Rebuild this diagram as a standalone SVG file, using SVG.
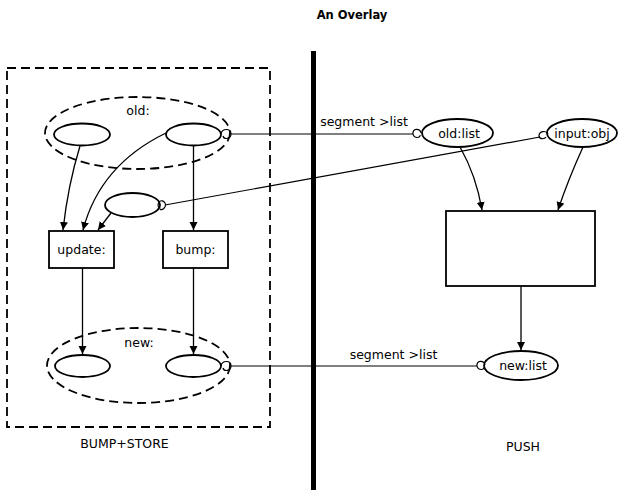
<svg xmlns="http://www.w3.org/2000/svg" width="618" height="493" viewBox="0 0 618 493">
<style>
.t{font-family:"DejaVu Sans","Liberation Sans",sans-serif;font-size:12.5px;fill:#000;text-anchor:middle}
.b{font-weight:bold;font-size:11.5px}
.s{fill:none;stroke:#000;stroke-width:1.3}
.n{fill:#fff;stroke:#000;stroke-width:1.8}
.d{fill:none;stroke:#000;stroke-width:1.8;stroke-dasharray:9,5}
.c{fill:none;stroke:#000;stroke-width:1.2}
</style>
<defs>
<marker id="ah" markerWidth="10" markerHeight="10" refX="8" refY="4" orient="auto" markerUnits="userSpaceOnUse">
<path d="M0,0 L8,4 L0,8 Z" fill="#000"/>
</marker>
</defs>
<rect width="618" height="493" fill="#fff"/>
<text class="t b" x="352" y="19">An Overlay</text>
<line x1="313.5" y1="51" x2="313.5" y2="490" stroke="#000" stroke-width="5"/>
<g id="bump-store">
<rect class="d" x="7" y="68" width="263" height="359"/>
<text class="t" x="124.5" y="448">BUMP+STORE</text>
</g>
<g id="old">
<ellipse class="d" cx="137.5" cy="133" rx="92.5" ry="36"/>
<text class="t" x="138" y="115">old:</text>
</g>
<g id="old-left"><ellipse class="n" cx="82" cy="134.5" rx="28" ry="11"/></g>
<g id="old-right"><ellipse class="n" cx="193.5" cy="134.5" rx="27.5" ry="11"/></g>
<g id="input-local"><ellipse class="n" cx="132.5" cy="205" rx="27.5" ry="12"/></g>
<g id="update"><rect class="n" x="49" y="231" width="65" height="37"/><text class="t" x="81.5" y="254">update:</text></g>
<g id="bump"><rect class="n" x="163" y="231" width="65" height="37"/><text class="t" x="195.5" y="254">bump:</text></g>
<g id="new">
<ellipse class="d" cx="138.5" cy="365.5" rx="91.5" ry="37.5"/>
<text class="t" x="139" y="347">new:</text>
</g>
<g id="new-left"><ellipse class="n" cx="82.5" cy="366" rx="27.5" ry="11"/></g>
<g id="new-right"><ellipse class="n" cx="193.5" cy="366" rx="27.5" ry="11"/></g>
<g id="push">
<text class="t" x="523" y="451">PUSH</text>
</g>
<g id="old-list"><ellipse class="n" cx="457.5" cy="133" rx="35.5" ry="14"/><text class="t" x="459" y="138">old:list</text></g>
<g id="input-obj"><ellipse class="n" cx="582" cy="133" rx="35" ry="14"/><text class="t" x="582" y="138">input:obj</text></g>
<g id="push-box"><rect class="n" x="446" y="211" width="149" height="75"/></g>
<g id="new-list"><ellipse class="n" cx="521" cy="365.5" rx="37" ry="14.5"/><text class="t" x="523" y="370">new:list</text></g>
<g id="connectors">
<path class="s" d="M80,146 Q68,185 63,230" marker-end="url(#ah)"/>
<path class="s" d="M166,133 Q100,165 83,230" marker-end="url(#ah)"/>
<path class="s" d="M111,213 L98,230" marker-end="url(#ah)"/>
<path class="s" d="M193.5,146 L193.5,230" marker-end="url(#ah)"/>
<path class="s" d="M82.5,268 L82.5,354" marker-end="url(#ah)"/>
<path class="s" d="M193.5,268 L193.5,354" marker-end="url(#ah)"/>
<path class="s" d="M460,147 Q476,175 482,210" marker-end="url(#ah)"/>
<path class="s" d="M583,147 Q568,180 558,210" marker-end="url(#ah)"/>
<path class="s" d="M521,286 L521,350" marker-end="url(#ah)"/>
<path class="c" d="M221,134 C222,128 231,128 231,134 C231,139 224,140 223,136 M231,134 L413,134"/>
<path class="c" d="M421,133 C420,128 412,128 413,134 C414,139 421,138 420,135"/>
<path class="c" d="M159,208 C156,202 162,198 165,203 C167,207 162,211 160,209 M165,205 L540,137"/>
<path class="c" d="M548,134 C546,130 539,131 539,136 C540,140 545,139 546,137"/>
<path class="c" d="M221,366 C222,360 231,360 231,366 C231,371 224,372 223,368 M231,366 L477,366"/>
<path class="c" d="M485,365 C484,360 476,360 477,366 C478,371 485,370 484,367"/>
<text class="t" x="364" y="126">segment &gt;list</text>
<text class="t" x="393.5" y="359">segment &gt;list</text>
</g>
</svg>
